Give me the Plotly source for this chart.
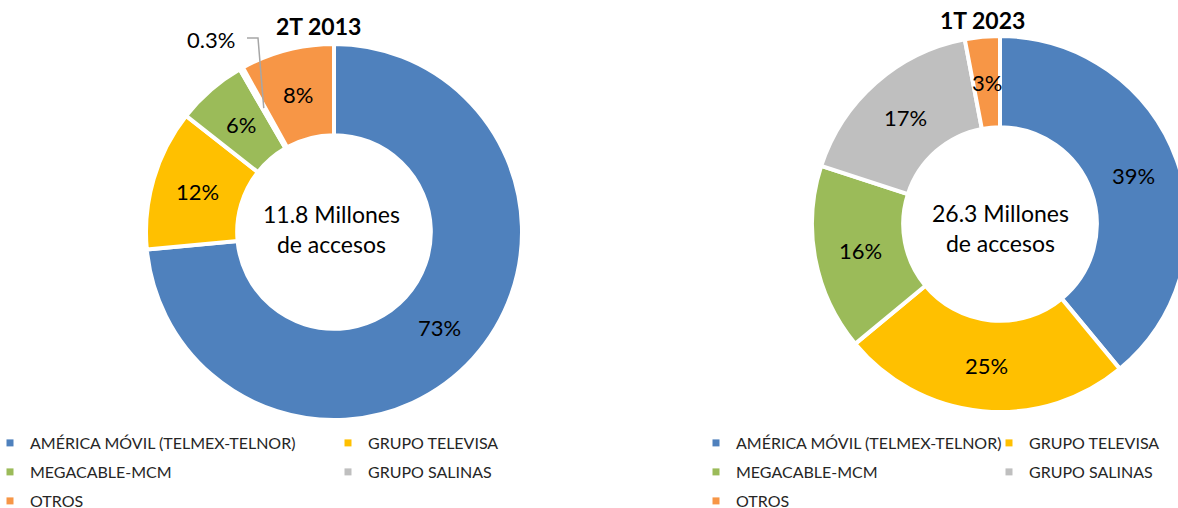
import math
import plotly.graph_objects as go

# ---------------- data ----------------
categories = ["AMÉRICA MÓVIL (TELMEX-TELNOR)", "GRUPO TELEVISA", "MEGACABLE-MCM",
              "GRUPO SALINAS", "OTROS"]
colors = ["#4F81BD", "#FFC000", "#9BBB59", "#BFBFBF", "#F79646"]
values_2013 = [73, 12, 6, 0.3, 8]
values_2023 = [39, 25, 16, 17, 3]
period_titles = ["2T 2013", "1T 2023"]
total_millions = [11.8, 26.3]

# ---------------- layout helpers ----------------
W, H = 1190, 520          # page shows the top-left 1178x508 (right donut is cut, as in the original)
FONT = "Lato, 'Open Sans', sans-serif"
HOLE = 0.515


def fx(px):
    return px / W


def fy(py):
    return 1 - py / H


charts = [
    dict(values=values_2013, cx=334, cy=232, r=188, title_xy=(318, 26), center_x=331,
         center_y=229, leg_x=-10, col_gap=338),
    dict(values=values_2023, cx=1000, cy=224, r=188, title_xy=(983, 20), center_x=1000,
         center_y=228, leg_x=696, col_gap=293),
]
legend_rows = [[0, 1], [2, 3], [4]]
legend_row_y = [443, 472, 501]

fig = go.Figure()
annotations = []
shapes = []
layout_legends = {}
legend_counter = 0

for k, ch in enumerate(charts):
    vals = ch["values"]
    labels_txt = [f"{v:g}%" for v in vals]
    cx, cy, r = ch["cx"], ch["cy"], ch["r"]
    fig.add_trace(go.Pie(
        values=vals, labels=categories, textinfo="none",
        marker=dict(colors=colors, line=dict(color="white", width=4)),
        hole=HOLE, sort=False, direction="clockwise", rotation=0,
        showlegend=False, hoverinfo="label+percent",
        domain=dict(x=[fx(cx - r), fx(cx + r)], y=[fy(cy + r), fy(cy - r)]),
    ))
    # title
    tx, ty = ch["title_xy"]
    annotations.append(dict(x=fx(tx), y=fy(ty), xref="paper", yref="paper",
                            xanchor="center", yanchor="middle",
                            text=f"<b>{period_titles[k]}</b>", showarrow=False,
                            font=dict(size=23, color="black", family=FONT)))
    # center text
    annotations.append(dict(x=fx(ch["center_x"]), y=fy(ch["center_y"]), xref="paper",
                            yref="paper", xanchor="center", yanchor="middle",
                            text=f"{total_millions[k]:g} Millones<br>de accesos",
                            showarrow=False,
                            font=dict(size=23, color="black", family=FONT)))
    # slice labels, placed at the middle of the ring at each slice's mid-angle
    total = sum(vals)
    rm = r * (1 + HOLE) / 2
    cum = 0
    for i, v in enumerate(vals):
        mid = (cum + v / 2) / total * 2 * math.pi
        ex = cx + rm * math.sin(mid)
        ey = cy - rm * math.cos(mid)
        if v >= 1:
            annotations.append(dict(x=fx(ex), y=fy(ey), xref="paper", yref="paper",
                                    xanchor="center", yanchor="middle",
                                    text=labels_txt[i], showarrow=False,
                                    font=dict(size=22, color="black", family=FONT)))
        else:
            lx, ly = 211, 40
            shapes.append(dict(type="path", xref="paper", yref="paper",
                               path=f"M {fx(247)} {fy(38)} L {fx(258)} {fy(38)} L {fx(ex)} {fy(ey)}",
                               line=dict(color="#A6A6A6", width=1.5)))
            annotations.append(dict(x=fx(lx), y=fy(ly), xref="paper", yref="paper",
                                    xanchor="center", yanchor="middle",
                                    text=labels_txt[i], showarrow=False,
                                    font=dict(size=22, color="black", family=FONT)))
        cum += v
    # legends (one per row)
    for j, row in enumerate(legend_rows):
        legend_counter += 1
        lname = "legend" if legend_counter == 1 else f"legend{legend_counter}"
        for n, idx in enumerate(row):
            lw = ch["col_gap"] - 45 if (n == 0 and len(row) > 1) else None
            fig.add_trace(go.Scatter(
                x=[None], y=[None], mode="markers", name=categories[idx],
                marker=dict(symbol="square", size=7, color=colors[idx]),
                legend=lname, legendwidth=lw, showlegend=True, hoverinfo="skip",
            ))
        layout_legends[lname] = dict(
            orientation="h", x=fx(ch["leg_x"]), y=fy(legend_row_y[j]),
            xanchor="left", yanchor="middle", bgcolor="rgba(0,0,0,0)",
            font=dict(size=16, color="#262626", family=FONT),
            itemclick=False, itemdoubleclick=False, traceorder="normal",
        )

fig.update_layout(
    width=W, height=H, margin=dict(l=0, r=0, t=0, b=0, autoexpand=False),
    paper_bgcolor="white", plot_bgcolor="white",
    xaxis=dict(visible=False), yaxis=dict(visible=False),
    annotations=annotations, shapes=shapes,
    **layout_legends,
)

fig.write_html(
    "out.html",
    config={"displayModeBar": False},
    post_script="document.documentElement.style.overflow='hidden';"
                "document.body.style.overflow='hidden';document.body.style.margin='0';",
)
